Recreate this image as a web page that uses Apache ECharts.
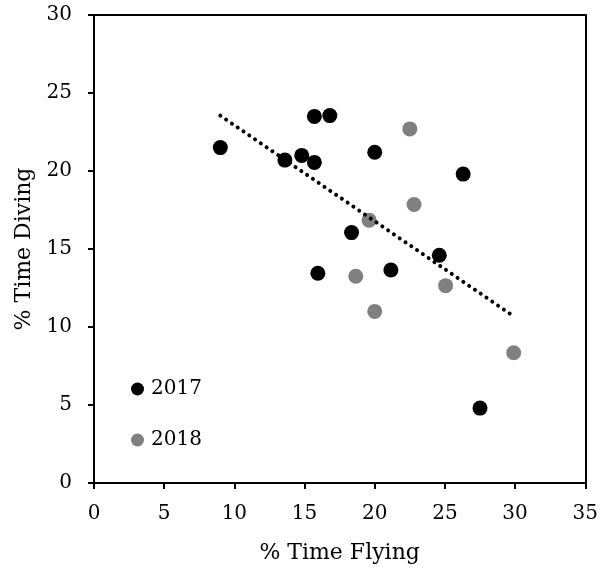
<!DOCTYPE html>
<html>
<head>
<meta charset="utf-8">
<script src="https://cdn.jsdelivr.net/npm/echarts@6/dist/echarts.min.js"></script>
<style>html,body{margin:0;padding:0;background:#fff;}#c{width:601px;height:572px;}</style>
</head>
<body>
<div id="c"></div>
<script>
var flying2017 = [9.0, 13.6, 14.8, 15.7, 15.7, 16.8, 20.0, 26.3, 18.35, 24.6, 15.95, 21.15, 27.5];
var diving2017 = [21.5, 20.7, 21.0, 20.55, 23.5, 23.55, 21.2, 19.8, 16.05, 14.6, 13.45, 13.65, 4.8];
var flying2018 = [22.5, 22.8, 19.6, 18.65, 25.05, 20.0, 29.9];
var diving2018 = [22.7, 17.85, 16.85, 13.25, 12.65, 11.0, 8.35];
var trendX = [9.0, 29.8];
var trendY = [23.55, 10.75];
var seriesNames = ['2017', '2018'];
var xTitle = '% Time Flying';
var yTitle = '% Time Diving';

function pairs(xs, ys) { return xs.map(function (x, i) { return [x, ys[i]]; }); }

var FONT = 'DejaVu Serif';
var axisLineStyle = { color: '#000', width: 2 };
var chart = echarts.init(document.getElementById('c'), null, { renderer: 'canvas' });
chart.setOption({
  animation: false,
  backgroundColor: '#fff',
  textStyle: { fontFamily: FONT },
  grid: { left: 94, top: 15, width: 492, height: 468 },
  legend: {
    data: seriesNames,
    orient: 'vertical',
    left: 126,
    top: 374,
    itemWidth: 13,
    itemHeight: 13,
    itemGap: 31,
    icon: 'circle',
    textStyle: { fontFamily: FONT, fontSize: 20, color: '#000', padding: [0, 0, 0, 2] }
  },
  xAxis: [{
    type: 'value', min: 0, max: 35, interval: 5,
    name: xTitle, nameLocation: 'middle', nameGap: 59,
    nameTextStyle: { fontFamily: FONT, fontSize: 22, color: '#000' },
    axisLine: { show: true, onZero: false, lineStyle: axisLineStyle },
    axisTick: { show: true, inside: false, length: 6, lineStyle: axisLineStyle },
    axisLabel: { fontFamily: FONT, fontSize: 20, color: '#000', margin: 21 },
    splitLine: { show: false }
  }, {
    type: 'value', min: 0, max: 35, interval: 5, position: 'top',
    axisLine: { show: true, onZero: false, lineStyle: axisLineStyle },
    axisTick: { show: false }, axisLabel: { show: false }, splitLine: { show: false }
  }],
  yAxis: [{
    type: 'value', min: 0, max: 30, interval: 5,
    name: yTitle, nameLocation: 'middle', nameGap: 58, nameRotate: 90,
    nameTextStyle: { fontFamily: FONT, fontSize: 22, color: '#000' },
    axisLine: { show: true, onZero: false, lineStyle: axisLineStyle },
    axisTick: { show: true, inside: false, length: 6, lineStyle: axisLineStyle },
    axisLabel: { fontFamily: FONT, fontSize: 20, color: '#000', margin: 22 },
    splitLine: { show: false }
  }, {
    type: 'value', min: 0, max: 30, interval: 5, position: 'right',
    axisLine: { show: true, onZero: false, lineStyle: axisLineStyle },
    axisTick: { show: false }, axisLabel: { show: false }, splitLine: { show: false }
  }],
  series: [
    { name: seriesNames[0], type: 'scatter', symbol: 'circle', symbolSize: 15, itemStyle: { color: '#000', opacity: 1 }, data: pairs(flying2017, diving2017), z: 2 },
    { name: seriesNames[1], type: 'scatter', symbol: 'circle', symbolSize: 15, itemStyle: { color: '#808080', opacity: 1 }, data: pairs(flying2018, diving2018), z: 2 },
    { name: 'trend', type: 'line', symbol: 'none', data: pairs(trendX, trendY), z: 3,
      lineStyle: { color: '#000', width: 4, type: [0.01, 7], cap: 'round' } }
  ]
});
</script>
</body>
</html>
